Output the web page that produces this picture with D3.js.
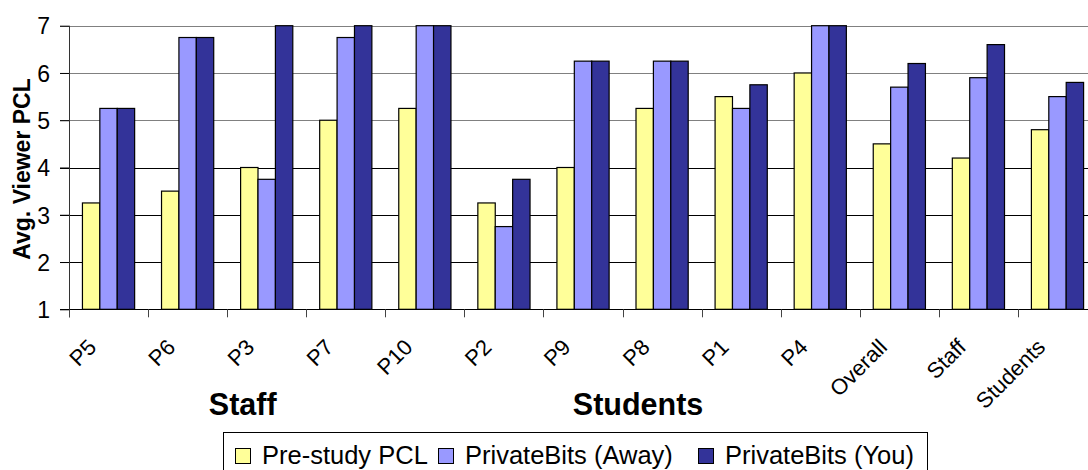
<!DOCTYPE html>
<html>
<head>
<meta charset="utf-8">
<script src="https://cdn.jsdelivr.net/npm/d3@7"></script>
<style>
  html, body { margin: 0; padding: 0; background: #fff; }
  svg { display: block; font-family: "Liberation Sans", Arial, sans-serif; }
</style>
</head>
<body>
<svg id="chart" width="1088" height="470"></svg>
<script>
// Participants and summary groups along the x axis
const categories = ["P5", "P6", "P3", "P7", "P10", "P2", "P9", "P8", "P1", "P4", "Overall", "Staff", "Students"];

// Average viewer PCL per participant / group
const preStudy = [3.25, 3.5, 4.0, 5.0, 5.25, 3.25, 4.0, 5.25, 5.5, 6.0, 4.5, 4.2, 4.8];
const awayVals = [5.25, 6.75, 3.75, 6.75, 7.0, 2.75, 6.25, 6.25, 5.25, 7.0, 5.7, 5.9, 5.5];
const youVals  = [5.25, 6.75, 7.0, 7.0, 7.0, 3.75, 6.25, 6.25, 5.75, 7.0, 6.2, 6.6, 5.8];

const seriesNames = ["Pre-study PCL", "PrivateBits (Away)", "PrivateBits (You)"];
const seriesColors = ["#FFFF99", "#9999FF", "#333399"];
const yTicks = [1, 2, 3, 4, 5, 6, 7];
const groupLabels = [
  { text: "Staff", from: "P5", to: "P10" },
  { text: "Students", from: "P2", to: "P4" }
];

(function () {
  const series = [preStudy, awayVals, youVals];
  const rows = categories.map((c, i) => ({ cat: c, vals: series.map(s => s[i]) }));

  const svg = d3.select("#chart");
  const W = 1088;
  const FONT = "'Liberation Sans', Arial, sans-serif";

  // Plot area
  const plotLeft = 69, step = 79.08, plotTop = 25.7, plotBottom = 309.3;
  const plotRight = plotLeft + step * categories.length;

  const x = d3.scaleBand().domain(categories).range([plotLeft, plotRight]).padding(0);
  const groupW = step * 0.66;
  const xs = d3.scaleBand().domain(d3.range(series.length)).range([0, groupW]).padding(0);
  const y = d3.scaleLinear().domain([1, 7]).range([plotBottom, plotTop]);

  // Horizontal gridlines
  svg.append("g").selectAll("line").data(yTicks.filter(t => t > 1)).join("line")
    .attr("x1", plotLeft - 9).attr("x2", W)
    .attr("y1", d => Math.round(y(d)) + 0.5).attr("y2", d => Math.round(y(d)) + 0.5)
    .attr("stroke", d => d >= 5 ? "#808080" : "#000")
    .attr("stroke-width", 1);

  // Bars
  const groups = svg.append("g").selectAll("g").data(rows).join("g")
    .attr("transform", d => `translate(${x(d.cat) + (step - groupW) / 2},0)`);
  groups.selectAll("rect").data(d => d.vals.map((v, k) => ({ v, k }))).join("rect")
    .attr("x", d => xs(d.k))
    .attr("width", xs.bandwidth())
    .attr("y", d => y(d.v))
    .attr("height", d => y(1) - y(d.v))
    .attr("fill", d => seriesColors[d.k])
    .attr("stroke", "#000")
    .attr("stroke-width", 1.2);

  // Y axis
  const yAxis = d3.axisLeft(y).tickValues(yTicks).tickFormat(d3.format("d")).tickSize(9).tickPadding(10);
  const yg = svg.append("g").attr("transform", `translate(${plotLeft},0)`).call(yAxis);
  yg.select(".domain").attr("stroke", "#333").attr("d", `M0.5,${plotTop}V${plotBottom + 8}`);
  yg.selectAll(".tick line").attr("stroke", "#000");
  yg.selectAll(".tick text").attr("font-size", 23).attr("fill", "#000")
    .attr("font-family", FONT).attr("dy", "0.36em");

  // X axis
  const xAxis = d3.axisBottom(x).tickSize(0);
  const xg = svg.append("g").attr("transform", `translate(0,${Math.round(plotBottom) + 0.5})`).call(xAxis);
  xg.select(".domain").attr("stroke", "#000").attr("d", `M${plotLeft - 9},0H${W}`);
  xg.selectAll(".tick text")
    .attr("font-size", 22)
    .attr("font-family", FONT)
    .attr("fill", "#000")
    .attr("text-anchor", "end")
    .attr("dy", 0)
    .attr("y", 0)
    .attr("transform", "translate(-11,39) rotate(-45)");

  // Band boundary tick marks
  svg.append("g").selectAll("line").data(d3.range(categories.length + 1)).join("line")
    .attr("x1", i => Math.round(plotLeft + i * step) + 0.5)
    .attr("x2", i => Math.round(plotLeft + i * step) + 0.5)
    .attr("y1", plotBottom).attr("y2", plotBottom + 8)
    .attr("stroke", "#444");

  // Y axis title
  svg.append("text")
    .attr("transform", `translate(30,${(75 + 263) / 2}) rotate(-90)`)
    .attr("text-anchor", "middle")
    .attr("font-size", 23).attr("font-weight", "bold")
    .text("Avg. Viewer PCL");

  // Group labels under the participant ticks
  svg.append("g").selectAll("text").data(groupLabels).join("text")
    .attr("x", d => (x(d.from) + x(d.to) + step) / 2 - 24)
    .attr("y", 415)
    .attr("text-anchor", "middle")
    .attr("font-size", 30.5).attr("font-weight", "bold")
    .text(d => d.text);

  // Legend
  const lg = svg.append("g");
  lg.append("rect").attr("x", 223.5).attr("y", 432.5).attr("width", 704).attr("height", 50)
    .attr("fill", "#fff").attr("stroke", "#000");
  const legendX = [235, 438, 698];
  const items = lg.selectAll("g").data(seriesNames).join("g")
    .attr("transform", (d, i) => `translate(${legendX[i]},0)`);
  items.append("rect").attr("x", 0.5).attr("y", 448.5).attr("width", 15).attr("height", 15)
    .attr("fill", (d, i) => seriesColors[i]).attr("stroke", "#000");
  items.append("text").attr("x", 27).attr("y", 464)
    .attr("font-size", 25.5)
    .text(d => d);
})();
</script>
</body>
</html>
